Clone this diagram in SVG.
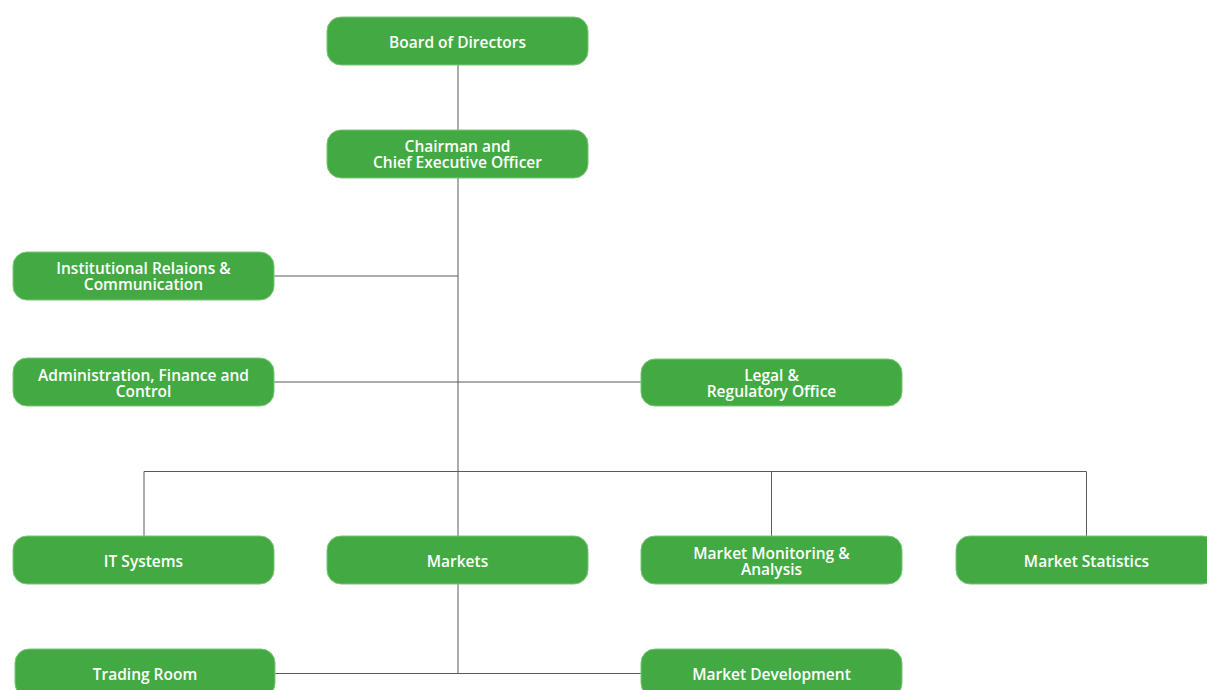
<svg xmlns="http://www.w3.org/2000/svg" width="1207" height="690" viewBox="0 0 1207 690">
  <style>
    .box { fill: #43aa43; stroke: #7cc47a; stroke-width: 1; }
    .lbl { font-family: "Open Sans", "Liberation Sans", sans-serif; font-weight: 600; font-size: 15.5px; fill: #ffffff; text-anchor: middle; }
    .link { fill: none; stroke: #5a5a5a; stroke-width: 1; }
  </style>
  <rect width="1207" height="690" fill="#ffffff"/>

  <g id="connectors">
    <path class="link" d="M458 65 V130"/>
    <path class="link" d="M458 178 V536"/>
    <path class="link" d="M274 276 H458"/>
    <path class="link" d="M274 382 H641"/>
    <path class="link" d="M144 536 V471.5 H1086.5 V536"/>
    <path class="link" d="M771.5 471.5 V536"/>
    <path class="link" d="M458 584 V673"/>
    <path class="link" d="M275 673.5 H641"/>
  </g>

  <g id="board">
    <rect class="box" x="327" y="17" width="261" height="48" rx="14"/>
    <text class="lbl" x="457.5" y="47.5">Board of Directors</text>
  </g>
  <g id="ceo">
    <rect class="box" x="327" y="130" width="261" height="48" rx="14"/>
    <text class="lbl" x="457.5" y="151.5">Chairman and</text>
    <text class="lbl" x="457.5" y="168">Chief Executive Officer</text>
  </g>
  <g id="institutional">
    <rect class="box" x="13" y="252" width="261" height="48" rx="14"/>
    <text class="lbl" x="143.5" y="273.5">Institutional Relaions &amp;</text>
    <text class="lbl" x="143.5" y="290">Communication</text>
  </g>
  <g id="administration">
    <rect class="box" x="13" y="358" width="261" height="48" rx="14"/>
    <text class="lbl" x="143.5" y="380.5">Administration, Finance and</text>
    <text class="lbl" x="143.5" y="397">Control</text>
  </g>
  <g id="legal">
    <rect class="box" x="641" y="359" width="261" height="47" rx="14"/>
    <text class="lbl" x="771.5" y="380.5">Legal &amp;</text>
    <text class="lbl" x="771.5" y="397">Regulatory Office</text>
  </g>
  <g id="it-systems">
    <rect class="box" x="13" y="536" width="261" height="48" rx="14"/>
    <text class="lbl" x="143.5" y="566.5">IT Systems</text>
  </g>
  <g id="markets">
    <rect class="box" x="327" y="536" width="261" height="48" rx="14"/>
    <text class="lbl" x="457.5" y="566.5">Markets</text>
  </g>
  <g id="monitoring">
    <rect class="box" x="641" y="536" width="261" height="48" rx="14"/>
    <text class="lbl" x="771.5" y="558.5">Market Monitoring &amp;</text>
    <text class="lbl" x="771.5" y="575">Analysis</text>
  </g>
  <g id="statistics">
    <rect class="box" x="956" y="536" width="261" height="48" rx="14"/>
    <text class="lbl" x="1086.5" y="566.5">Market Statistics</text>
  </g>
  <g id="trading-room">
    <rect class="box" x="15" y="649" width="260" height="48" rx="14"/>
    <text class="lbl" x="145" y="679.5">Trading Room</text>
  </g>
  <g id="market-development">
    <rect class="box" x="641" y="649" width="261" height="48" rx="14"/>
    <text class="lbl" x="771.5" y="679.5">Market Development</text>
  </g>
</svg>
